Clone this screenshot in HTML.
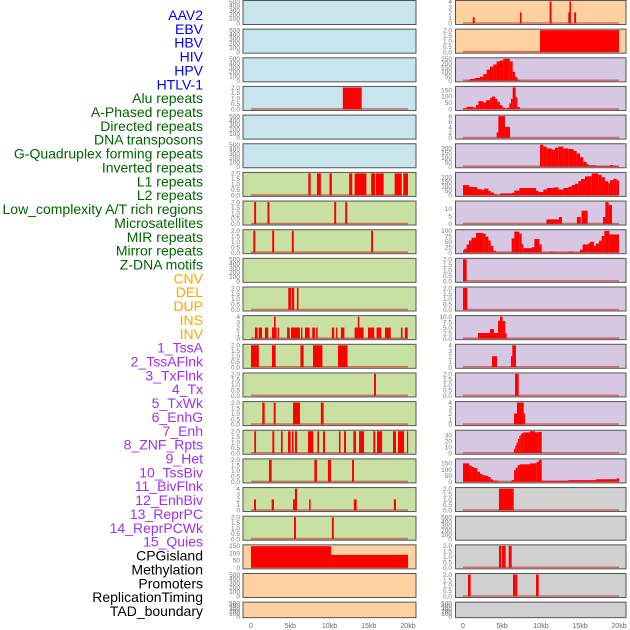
<!DOCTYPE html>
<html><head><meta charset="utf-8"><style>
html,body{margin:0;padding:0;background:#fff;}
svg{display:block;font-family:"Liberation Sans",sans-serif;}
</style></head><body>
<svg id="chart" width="630" height="630" viewBox="0 0 630 630"></svg>
<script>
// ---- labels ----
const labelNames = ["AAV2","EBV","HBV","HIV","HPV","HTLV-1","Alu repeats","A-Phased repeats","Directed repeats","DNA transposons","G-Quadruplex forming repeats","Inverted repeats","L1 repeats","L2 repeats","Low_complexity A/T rich regions","Microsatellites","MIR repeats","Mirror repeats","Z-DNA motifs","CNV","DEL","DUP","INS","INV","1_TssA","2_TssAFlnk","3_TxFlnk","4_Tx","5_TxWk","6_EnhG","7_Enh","8_ZNF_Rpts","9_Het","10_TssBiv","11_BivFlnk","12_EnhBiv","13_ReprPC","14_ReprPCWk","15_Quies","CPGisland","Methylation","Promoters","ReplicationTiming","TAD_boundary"];
const labelGroups = ["v","v","v","v","v","v","r","r","r","r","r","r","r","r","r","r","r","r","r","s","s","s","s","s","c","c","c","c","c","c","c","c","c","c","c","c","c","c","c","k","k","k","k","k"];
// ---- tick label sets ----
const T2 = ["0.0","0.5","1.0","1.5","2.0"];
const T4 = ["0","1","2","3","4"];
const T500 = ["0","100","200","300","400","500"];
const T150 = ["0","50","100","150"];
const T250 = ["0","50","100","150","200","250"];
const T200 = ["0","50","100","150","200"];
const T8 = ["0","2","4","6","8"];
const T10 = ["0","5","10"];
const T100 = ["0","25","50","75","100"];
const T10f = ["0.0","2.5","5.0","7.5","10.0"];
const T30 = ["0","10","20","30"];
const xTicks = [0,5,10,15,20];
const xTickLabels = ["0","5kb","10kb","15kb","20kb"];
// ---- left column segments [startKb, endKb, value] ----
const L4 = [[11.7,14.1,2]];
const L7 = [[7.3,7.6,2],[8.4,8.9,2],[10.0,10.3,2],[12.5,12.9,2],[13.2,14.7,2],[15.3,15.8,2],[15.9,16.9,2],[18.3,19.2,2],[19.4,20,2]];
const L8 = [[0.4,0.65,2],[2.1,2.35,2],[10.6,10.85,2],[12.0,12.25,2]];
const L9 = [[0.3,0.55,2],[2.7,2.95,2],[5.2,5.45,2],[15.3,15.55,2]];
const L11 = [[4.75,5.1,2],[5.2,5.5,2],[5.85,6.05,2]];
const L12 = [[0.5,0.85,2],[0.98,1.4,2],[1.78,2.2,2],[2.67,3.27,2],[2.93,3.14,4],[3.4,3.57,2],[4.6,4.93,2],[5.1,6.24,2],[6.37,6.54,2],[6.88,7.47,2],[7.8,8.15,2],[8.3,8.5,2],[10.3,10.6,2],[10.83,11.0,2],[11.46,11.9,2],[13.2,14.35,2],[13.6,13.8,4],[14.9,15.7,2],[16.0,16.6,2],[17.07,17.8,2],[19.1,19.3,2],[19.6,19.96,2]];
const L13 = [[0,1.0,2],[2.67,3.14,2],[6.3,6.7,2],[7.9,9.1,2],[11.08,12.3,2]];
const L14 = [[15.67,15.92,2]];
const L15 = [[1.44,1.74,2],[2.89,3.14,2],[5.35,6.24,2],[8.9,9.25,2]];
const L16 = [[0.42,0.64,2],[2.72,2.97,2],[3.82,4.03,2],[4.71,5.05,2],[5.22,5.43,2],[5.6,5.86,2],[7.26,7.94,2],[8.45,8.66,2],[9.17,9.43,2],[11.2,11.4,2],[11.85,12.1,2],[13.04,13.38,2],[13.76,14.4,2],[15.58,15.84,2],[16.05,16.7,2],[18.09,18.47,2],[18.73,19.5,2],[19.87,20,2]];
const L17 = [[2.29,2.63,2],[8.07,8.4,2],[9.8,10.19,2],[12.87,13.12,2]];
const L18 = [[0.38,0.64,2],[2.63,2.93,2],[5.35,5.6,2],[5.6,5.86,4],[7.4,7.6,2],[13.1,13.46,2],[18.2,18.47,2]];
const L19 = [[5.48,5.73,2],[10.3,10.55,2]];
const L20 = [[0,10.2,148],[10.2,20,88]];
// ---- right column segments ----
const R1 = [[1.25,1.5,1.1],[7.3,7.5,2],[11.1,11.35,4],[13.5,13.65,2],[13.65,13.85,4],[14.25,14.5,2]];
const R2 = [[9.87,20,2]];
const R3 = [[0.56,0.9,10],[0.9,1.54,20],[1.54,2.18,30],[2.18,2.6,45],[2.6,3.03,75],[3.03,3.46,125],[3.46,3.88,160],[3.88,4.31,185],[4.31,4.74,220],[4.74,5.17,230],[5.17,6.0,250],[6.0,6.37,220],[6.37,6.67,100],[6.67,6.97,40],[6.97,7.3,10]];
const R4 = [[0,0.46,7],[0.46,1.32,19],[1.32,1.67,12],[1.67,1.97,34],[1.97,2.6,63],[2.6,2.95,53],[2.95,3.46,70],[3.46,3.68,87],[3.68,4.1,99],[4.1,4.4,82],[4.4,4.74,58],[4.74,5.08,31],[5.08,5.38,12],[5.6,5.94,12],[5.94,6.15,46],[6.15,6.37,82],[6.37,6.75,170],[6.75,6.97,94],[6.97,7.3,17]];
const R5 = [[4.31,4.53,2],[4.53,5.38,8],[5.38,6.03,4]];
const R6 = [[9.87,10.3,240],[10.3,10.73,220],[10.73,11.36,200],[11.36,11.8,186],[11.8,12.22,207],[12.22,12.86,220],[12.86,13.5,200],[13.5,14.15,193],[14.15,14.57,172],[14.57,15.0,145],[15.0,15.42,103],[15.42,15.85,52],[15.85,16.07,28],[16.07,17.1,14],[17.1,18.85,7],[18.85,19.27,17],[19.27,20,7]];
const R7 = [[0,0.77,111],[0.77,1.32,92],[1.32,1.84,89],[1.84,2.4,66],[2.4,2.69,56],[2.69,3.25,72],[3.25,3.55,49],[3.55,3.97,30],[3.97,4.4,10],[4.4,4.74,3],[4.74,6.24,20],[6.24,6.58,26],[6.58,7.22,52],[7.22,9.36,79],[9.36,9.66,49],[9.66,10.3,36],[10.3,10.73,62],[10.73,11.58,79],[11.58,12.26,85],[12.26,12.86,62],[12.86,13.5,79],[13.5,13.93,92],[13.93,14.36,111],[14.36,14.79,125],[14.79,15.13,154],[15.13,15.64,177],[15.64,16.5,207],[16.5,17.35,239],[17.35,17.78,223],[17.78,18.2,197],[18.2,18.63,154],[18.63,18.85,131],[18.85,19.27,164],[19.27,19.7,180],[19.7,20,161]];
const R8 = [[10.7,12.3,3],[12.3,12.69,4.6],[14.6,15.1,4.6],[15.2,15.98,8.8],[17.95,18.25,4.6],[18.25,18.67,14.6],[18.67,19.1,12.6]];
const R9 = [[0,0.17,10],[0.17,0.46,17],[0.46,0.77,37],[0.77,1.1,55],[1.1,1.67,68],[1.67,2.6,90],[2.6,2.9,86],[2.9,3.25,73],[3.25,3.55,55],[3.55,3.88,31],[3.88,4.19,8],[4.19,6.24,1.5],[6.24,6.58,65],[6.58,7.22,96],[7.22,7.52,86],[7.52,7.73,39],[7.73,8.8,20],[8.8,9.15,24],[9.15,9.79,62],[9.79,10.09,37],[10.09,11.15,1.5],[11.15,11.92,4],[11.92,13.5,1.5],[13.5,14.06,4],[14.06,15.0,1.5],[15.0,15.34,13],[15.34,16.07,37],[16.07,16.28,42],[16.28,16.8,49],[16.8,17.05,30],[17.05,17.44,41],[17.44,17.78,54],[17.78,18.12,76],[18.12,18.76,99],[18.76,20,83]];
const R10 = [[0,0.47,2]];
const R11 = [[0,0.55,2]];
const R12 = [[1.92,3.46,2.5],[3.46,3.97,4.3],[3.97,4.49,2.5],[4.49,4.74,8.1],[4.74,5.08,10],[5.08,5.42,8],[5.42,5.6,2.5]];
const R13 = [[3.72,4.36,2],[6.15,6.32,2],[6.32,6.79,4]];
const R14 = [[6.67,7.14,2]];
const R15 = [[6.54,6.92,2],[6.92,7.78,4],[7.78,7.95,2]];
const R16 = [[6.54,6.71,7],[6.71,6.88,13],[6.88,7.05,18],[7.05,7.22,24],[7.22,7.39,29],[7.39,7.56,32],[7.56,7.73,34],[7.73,8.59,35],[8.59,9.23,37],[9.23,9.66,35],[9.66,10.09,36]];
const R17 = [[0,0.77,150],[0.77,1.1,132],[1.1,1.41,120],[1.41,1.84,112],[1.84,2.18,81],[2.18,2.48,64],[2.48,2.9,53],[2.9,3.25,48],[3.25,3.55,38],[3.55,3.88,18],[3.88,4.61,8],[6.24,6.54,13],[6.54,6.75,94],[6.75,7.01,114],[7.01,7.3,135],[7.3,8.59,142],[8.59,9.44,150],[9.44,9.74,163],[9.74,10.09,178],[10.09,13.5,8],[13.5,17.05,13],[17.05,19.7,20],[19.7,20,28]];
const R18 = [[4.61,6.5,2]];
const R20 = [[4.61,4.87,2],[4.96,5.47,2],[5.86,6.24,2]];
const R21 = [[0.64,0.98,2],[6.41,6.71,2],[6.71,6.97,2],[9.36,9.7,2]];
const EMPTY = [];
// panel lists: [background key, ymax, ticks, segments]
const leftPanels = [
 ["blue",500,T500,EMPTY],["blue",500,T500,EMPTY],["blue",500,T500,EMPTY],["blue",2,T2,L4],["blue",500,T500,EMPTY],["blue",500,T500,EMPTY],
 ["green",2,T2,L7],["green",2,T2,L8],["green",2,T2,L9],["green",500,T500,EMPTY],["green",2,T2,L11],["green",4,T4,L12],
 ["green",2,T2,L13],["green",2,T2,L14],["green",2,T2,L15],["green",2,T2,L16],["green",2,T2,L17],["green",4,T4,L18],["green",2,T2,L19],
 ["peach",150,T150,L20],["peach",500,T500,EMPTY],["peach",500,T500,EMPTY]];
const rightPanels = [
 ["peach",4,T4,R1],["peach",2,T2,R2],["lav",250,T250,R3],["lav",170,T150,R4],["lav",8,T8,R5],["lav",240,T200,R6],
 ["lav",239,T200,R7],["lav",14.6,T10,R8],["lav",100,T100,R9],["lav",2,T2,R10],["lav",2,T2,R11],["lav",10,T10f,R12],
 ["lav",4,T4,R13],["lav",2,T2,R14],["lav",4,T4,R15],["lav",37,T30,R16],["lav",178,T150,R17],
 ["gray",2,T2,R18],["gray",500,T500,EMPTY],["gray",2,T2,R20],["gray",2,T2,R21],["gray",500,T500,EMPTY]];

const NS = "http://www.w3.org/2000/svg";
const svg = document.getElementById("chart");
const BG = {blue:"#c8e4ec",green:"#c8e1a3",peach:"#ffd1a0",lav:"#d6c8e3",gray:"#d0d0d0"};
const LCOL = {v:"#0000ff",r:"#006400",s:"#ffa500",c:"#a030f0",k:"#000000"};
function mk(tag, attrs){const e=document.createElementNS(NS,tag);for(const k in attrs)e.setAttribute(k,attrs[k]);return e;}

// labels
labelNames.forEach((t,i)=>{
  const e = mk("text",{x:203,y:15+i*13.86+5,"text-anchor":"end","font-size":"14",fill:LCOL[labelGroups[i]]});
  
  
  e.textContent=t; svg.appendChild(e);
});

const cols = [
 {panels:leftPanels, px0:243, px1:416, x0:251, x1:408, tickX:240, name:"left"},
 {panels:rightPanels, px0:455.5, px1:626, x0:463, x1:619, tickX:452, name:"right"}];
const PITCH = 28.65;
cols.forEach(col=>{
  const xs = kb => col.x0 + (col.x1-col.x0)*kb/20;
  col.panels.forEach((p,i)=>{
    const top = i*PITCH + 0.5;
    const h = (i===col.panels.length-1) ? 15.5 : 24;
    const g = mk("g",{});
    
    
    svg.appendChild(g);
    const r = mk("rect",{x:col.px0,y:top,width:col.px1-col.px0,height:h,fill:BG[p[0]],stroke:"#555",
      "stroke-width":"1"});
    
    
    g.appendChild(r);
    const yZero = top+h-1.2, yMax = top+1;
    const ys = v => yZero - (yZero-yMax)*v/p[1];
    const ticks = p[2];
    ticks.forEach((t,k)=>{
      const tv = parseFloat(t);
      const e = mk("text",{x:col.tickX,y:ys(tv)+2.3,"text-anchor":"end","font-size":"6.5",fill:"#777"});
      
      
      e.textContent=t; g.appendChild(e);
    });
    if(p[3].length){
      const bl = mk("line",{x1:xs(0),x2:xs(20),y1:yZero-0.3,y2:yZero-0.3,stroke:"rgba(205,40,40,0.6)","stroke-width":"1.6"});
      
      
      g.appendChild(bl);
    }
    p[3].forEach(s=>{
      const x = xs(s[0]), w = Math.max(xs(s[1])-x,1.2);
      const y = ys(s[2]);
      const b = mk("rect",{x:x,y:y,width:w,height:Math.max(yZero-y,0),fill:"#ff0000"});
      
      
      g.appendChild(b);
    });
  });
  xTicks.forEach((kb,k)=>{
    const e = mk("text",{x:xs(kb),y:628,"text-anchor":"middle","font-size":"7",fill:"#666"});
    
    
    e.textContent=xTickLabels[k]; svg.appendChild(e);
  });
});
</script>
</body></html>
